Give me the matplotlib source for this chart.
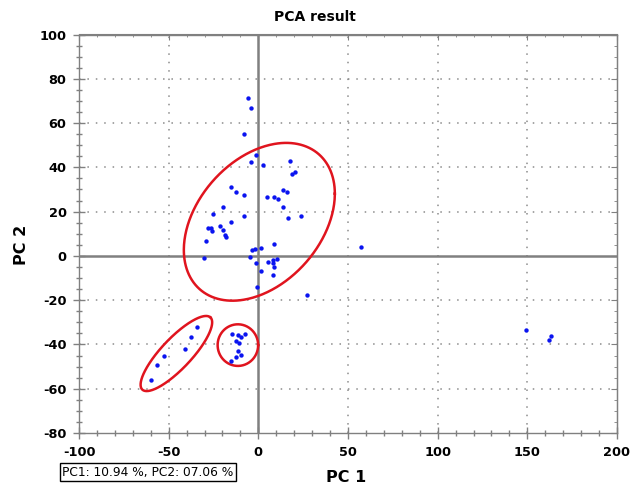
import numpy as np
import matplotlib
matplotlib.use("Agg")
import matplotlib.pyplot as plt
from matplotlib.ticker import MultipleLocator

plt.rcParams["axes.unicode_minus"] = False

# ---- data (PC1, PC2 scores) ----
pc1 = [-5.6, -3.9, -8.0, -1.3, -4.1, 2.6, 17.8, 20.5, 18.6, -15.4, -12.4, -8.2,
       13.8, 16.2, 5.0, 8.9, 11.2, -19.9, 13.8, -25.5, -8.2, 16.3, 23.8,
       -15.2, -21.4, -28.0, -26.2, -25.8, -19.7, -18.8, -18.0, -29.0, 8.9,
       -3.7, -2.1, 1.7, -30.3, -4.8, -1.5, 5.4, 8.0, 10.6, 8.4, 8.7, 1.7,
       8.0, -0.6, 27.1, 57.4, 149.5, 163.0, 162.3,
       -34.4, -37.4, -40.7, -52.6, -56.5, -59.7,
       -14.5, -11.5, -9.9, -7.3, -12.4, -10.6, -11.2, -9.9, -12.4, -15.1]
pc2 = [71.5, 67.0, 55.2, 45.4, 42.4, 41.0, 43.0, 37.9, 37.0, 31.2, 29.0, 27.7,
       29.9, 28.7, 26.4, 26.6, 25.8, 22.2, 21.9, 19.1, 18.2, 17.2, 18.1,
       15.1, 13.4, 12.8, 12.8, 11.3, 11.6, 9.6, 8.6, 6.9, 5.4,
       2.7, 3.2, 3.6, -0.8, -0.3, -3.0, -2.9, -1.8, -1.5, -3.3, -5.1, -6.6,
       -8.6, -14.2, -17.8, 4.2, -33.3, -36.3, -37.9,
       -32.0, -36.5, -41.9, -45.4, -49.5, -56.0,
       -35.2, -35.9, -36.8, -35.3, -38.6, -39.5, -43.0, -44.8, -45.6, -47.4]

# ellipses: centre, conjugate semi-axis vectors (data units)
ell_centres = [(0.56, 15.4), (-45.7, -44.1), (-11.4, -40.3)]
ell_axis_a = [(42.1, 12.7), (19.0, 16.3), (11.3, 0.0)]
ell_axis_b = [(0.0, 33.3), (6.1, -4.7), (0.0, 9.4)]

title = "PCA result"
xlabel = "PC 1"
ylabel = "PC 2"
variance_text = "PC1: 10.94 %, PC2: 07.06 %"
x_ticks = [-100, -50, 0, 50, 100, 150, 200]
y_ticks = list(range(-80, 101, 20))

# ---- figure ----
fig = plt.figure(figsize=(6.3, 4.9), dpi=100)
ax = fig.add_axes([79 / 630, 1 - 433 / 490, (617 - 79) / 630, (433 - 34.5) / 490])
ax.set_xlim(-100, 200)
ax.set_ylim(-80, 100)

grey = "#808080"
dotgrey = "#8c8c8c"

# dotted grid at majors (except 0 and the frame)
for xv in x_ticks[1:-1]:
    if xv != 0:
        ax.axvline(xv, color=dotgrey, lw=1.1, ls=(0, (1, 4.5)), zorder=0)
for yv in y_ticks[1:-1]:
    if yv != 0:
        ax.axhline(yv, color=dotgrey, lw=1.1, ls=(0, (1, 4.5)), zorder=0)
ax.axvline(0, color=grey, lw=1.8, zorder=1)
ax.axhline(0, color=grey, lw=1.8, zorder=1)

# ellipses
t = np.linspace(0, 2 * np.pi, 400)
for (cx, cy), (ax_, ay_), (bx_, by_) in zip(ell_centres, ell_axis_a, ell_axis_b):
    ex = cx + ax_ * np.cos(t) + bx_ * np.sin(t)
    ey = cy + ay_ * np.cos(t) + by_ * np.sin(t)
    ax.plot(ex, ey, color="#e0141e", lw=1.8, zorder=2)

ax.scatter(pc1, pc2, s=10, color="#0a14f0", linewidths=0, zorder=3)

# ticks
ax.set_xticks(x_ticks)
ax.set_yticks(y_ticks)
ax.xaxis.set_minor_locator(MultipleLocator(10))
ax.yaxis.set_minor_locator(MultipleLocator(5))
ax.tick_params(which="major", direction="inout", length=8, width=1, color=grey,
               labelsize=9.3, pad=5)
ax.tick_params(which="minor", direction="inout", length=5, width=1, color=grey)
for lab in ax.get_xticklabels() + ax.get_yticklabels():
    lab.set_fontweight("bold")
for sp in ax.spines.values():
    sp.set_color(grey)
    sp.set_linewidth(1.0)

# inward ticks on top and right
secx = ax.secondary_xaxis("top")
secx.set_xticks(x_ticks)
secx.xaxis.set_minor_locator(MultipleLocator(10))
secx.tick_params(which="major", direction="in", length=4, color=grey, labeltop=False)
secx.tick_params(which="minor", direction="in", length=2.5, color=grey)
secx.spines["top"].set_color(grey)
secy = ax.secondary_yaxis("right")
secy.set_yticks(y_ticks)
secy.yaxis.set_minor_locator(MultipleLocator(5))
secy.tick_params(which="major", direction="in", length=4, color=grey, labelright=False)
secy.tick_params(which="minor", direction="in", length=2.5, color=grey)
secy.spines["right"].set_color(grey)

fig.text(0.5, 1 - 17 / 490, title, ha="center", va="center", fontsize=10,
         fontweight="bold")
fig.text(346 / 630, 1 - 477 / 490, xlabel, ha="center", va="center", fontsize=11.5,
         fontweight="bold")
fig.text(22 / 630, 1 - 245 / 490, ylabel, ha="center", va="center", fontsize=11.5,
         fontweight="bold", rotation=90)
fig.text(62 / 630, 1 - 472 / 490, variance_text, ha="left", va="center", fontsize=8.8,
         bbox=dict(boxstyle="square,pad=0.2", facecolor="white", edgecolor="black", lw=1))

fig.savefig("out.png", dpi=100)
